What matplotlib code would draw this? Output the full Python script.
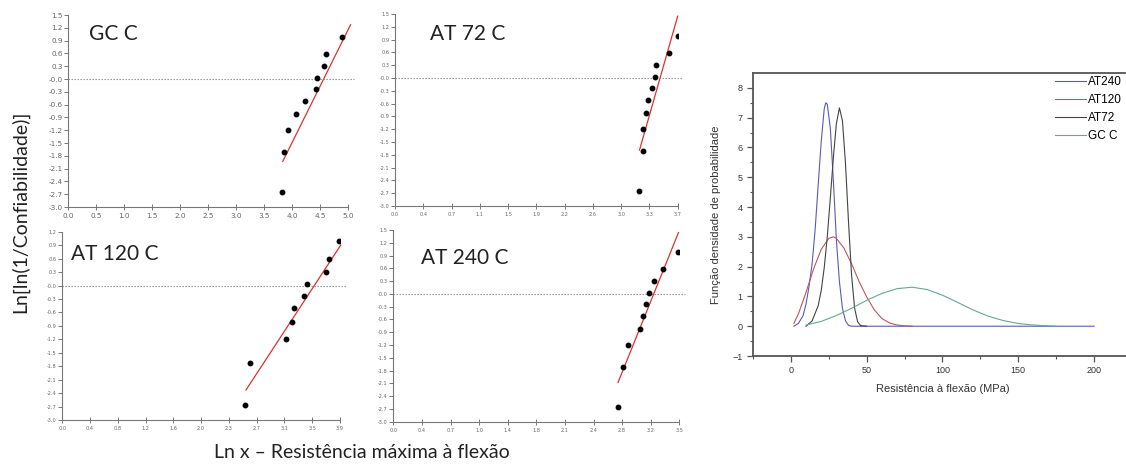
import numpy as np
import matplotlib
matplotlib.use("Agg")
import matplotlib.pyplot as plt

# Weibull plots: ln x of each specimen, same median-rank ordinate for all groups
ln_ln_y = [-2.66, -1.72, -1.20, -0.82, -0.51, -0.23, 0.03, 0.30, 0.59, 0.99]
gcc_lnx = [3.81, 3.86, 3.93, 4.06, 4.23, 4.42, 4.44, 4.57, 4.60, 4.89]
at72_lnx = [3.19, 3.24, 3.25, 3.29, 3.31, 3.36, 3.40, 3.42, 3.59, 3.70]
at120_lnx = [2.56, 2.64, 3.14, 3.22, 3.25, 3.39, 3.43, 3.71, 3.75, 3.89]
at240_lnx = [2.75, 2.81, 2.87, 3.02, 3.05, 3.09, 3.13, 3.19, 3.30, 3.48]

# fitted lines (end points)
gcc_fit_x, gcc_fit_y = [3.83, 5.04], [-1.93, 1.27]
at72_fit_x, at72_fit_y = [3.20, 3.70], [-1.69, 1.45]
at120_fit_x, at120_fit_y = [2.58, 3.91], [-2.33, 0.90]
at240_fit_x, at240_fit_y = [2.75, 3.49], [-2.08, 1.44]

# x tick labels as printed on each plot
gcc_xticklabels = ["0.0", "0.5", "1.0", "1.5", "2.0", "2.5", "3.0", "3.5", "4.0", "4.5", "5.0"]
at72_xticklabels = ["0.0", "0.4", "0.7", "1.1", "1.5", "1.9", "2.2", "2.6", "3.0", "3.3", "3.7"]
at120_xticklabels = ["0.0", "0.4", "0.8", "1.2", "1.6", "2.0", "2.3", "2.7", "3.1", "3.5", "3.9"]
at240_xticklabels = ["0.0", "0.4", "0.7", "1.0", "1.4", "1.8", "2.1", "2.4", "2.8", "3.2", "3.5"]

# probability density curves (MPa, density)
at240_mpa = [2, 5, 8, 10, 12, 14, 16, 18, 20, 22, 23, 24, 26, 28, 30, 32, 34, 36, 38, 40, 200]
at240_pdf = [0.0, 0.1, 0.35, 0.75, 1.35, 2.1, 3.25, 4.75, 6.2, 7.3, 7.5, 7.45, 6.65, 4.9, 2.9, 1.5,
             0.6, 0.18, 0.03, 0.0, 0.0]
at72_mpa = [10, 14, 18, 20, 22, 24, 26, 28, 30, 32, 34, 36, 38, 40, 42, 44, 46, 50]
at72_pdf = [0.0, 0.18, 0.69, 1.2, 1.97, 3.0, 4.3, 5.65, 6.8, 7.33, 6.9, 5.47, 3.5, 1.73, 0.61,
            0.15, 0.02, 0.0]
at120_mpa = [2, 5, 10, 15, 20, 25, 28, 30, 35, 40, 45, 50, 55, 60, 65, 70, 75, 80]
at120_pdf = [0.1, 0.42, 1.14, 1.93, 2.58, 2.95, 3.0, 2.95, 2.62, 2.1, 1.5, 0.98, 0.55, 0.26,
             0.11, 0.04, 0.015, 0.0]
gcc_mpa = [10, 20, 30, 40, 50, 60, 70, 80, 90, 100, 110, 120, 130, 140, 150, 160, 170, 175]
gcc_pdf = [0.04, 0.16, 0.36, 0.6, 0.87, 1.1, 1.26, 1.31, 1.23, 1.04, 0.8, 0.55, 0.34, 0.19,
           0.09, 0.04, 0.01, 0.0]

W, H = 1126, 468
fig = plt.figure(figsize=(W / 100, H / 100), dpi=100)


def px_axes(left, top, right, bottom):
    return fig.add_axes([left / W, 1 - bottom / H, (right - left) / W, (bottom - top) / H])


def weibull_panel(box, lnx, fit_x, fit_y, xmax, xlabels, ymax, title, title_xy, tick_fs):
    ax = px_axes(*box)
    ax.plot(lnx, ln_ln_y, "o", color="black", ms=3.2, zorder=3)
    ax.plot(fit_x, fit_y, color="#e03030", lw=0.9, clip_on=False)
    ax.plot([0, xmax * 1.02], [0, 0], ls=(0, (1.2, 1.5)), color="#888888", lw=0.8, clip_on=False)
    ax.set_xlim(0, xmax)
    ax.set_ylim(-3.0, ymax)
    ax.set_xticks(np.linspace(0, xmax, 11))
    ax.set_xticklabels(xlabels)
    yt = np.round(np.arange(-3.0, ymax + 0.01, 0.3), 1)
    ax.set_yticks(yt)
    ax.set_yticklabels(["%.1f" % v for v in yt])
    for s in ["top", "right"]:
        ax.spines[s].set_visible(False)
    for s in ["left", "bottom"]:
        ax.spines[s].set_color("#777777")
        ax.spines[s].set_linewidth(0.8)
    ax.tick_params(axis="x", direction="inout", length=5, width=0.7, colors="#777777",
                   labelsize=tick_fs, labelcolor="#666666", pad=2)
    ax.tick_params(axis="y", direction="out", length=3, width=0.7, colors="#777777",
                   labelsize=tick_fs, labelcolor="#666666", pad=1)
    ax.patch.set_alpha(0)
    fig.text(title_xy[0] / W, 1 - title_xy[1] / H, title, family="Lato", fontsize=15,
             color="#222222", va="center")
    return ax


weibull_panel((68.3, 15, 348.3, 207), gcc_lnx, gcc_fit_x, gcc_fit_y, 5.0, gcc_xticklabels,
              1.5, "GC C", (89, 34), 5.2)
weibull_panel((395, 14, 677.7, 206), at72_lnx, at72_fit_x, at72_fit_y, 3.7, at72_xticklabels,
              1.5, "AT 72 C", (430, 34), 3.6)
weibull_panel((62.3, 231.7, 340, 420), at120_lnx, at120_fit_x, at120_fit_y, 3.9,
              at120_xticklabels, 1.2, "AT 120 C", (71, 254), 3.6)
weibull_panel((393.3, 230, 679.3, 421.7), at240_lnx, at240_fit_x, at240_fit_y, 3.5,
              at240_xticklabels, 1.5, "AT 240 C", (421, 258), 3.6)

fig.text(20 / W, 1 - 212 / H, "Ln[ln(1/Confiabilidade)]", family="Lato", fontsize=14,
         color="#222222", rotation=90, ha="center", va="center")
fig.text(362 / W, 1 - 453 / H, "Ln x \u2013 Resist\u00eancia m\u00e1xima \u00e0 flex\u00e3o",
         family="Lato", fontsize=14, color="#222222", ha="center", va="center")

# density plot (right)
ax = px_axes(753, 73, 1132, 356)
ax.plot(at240_mpa, at240_pdf, color="#5a5ab8", lw=0.8, label="AT240")
ax.plot(at120_mpa, at120_pdf, color="#b85a5a", lw=0.8, label="AT120")
ax.plot(at72_mpa, at72_pdf, color="#444444", lw=0.8, label="AT72")
ax.plot(gcc_mpa, gcc_pdf, color="#6aa596", lw=0.8, label="GC C")
ax.set_xlim(-25, 225)
ax.set_ylim(-1, 8.5)
ax.set_xticks([0, 50, 100, 150, 200])
ax.set_xticks([-25, 25, 75, 125, 175, 225], minor=True)
ax.set_yticks(range(-1, 9))
ax.set_yticks(np.arange(-0.5, 8.5, 1.0), minor=True)
for s in ax.spines.values():
    s.set_color("#555555")
    s.set_linewidth(1.3)
ax.tick_params(which="major", direction="out", length=4, width=0.9, colors="#555555",
               labelsize=6.5, labelcolor="#333333", top=False, right=False)
ax.tick_params(which="minor", direction="out", length=2.5, width=0.8, colors="#555555",
               top=False, right=False)
for lab in ax.get_xticklabels() + ax.get_yticklabels():
    lab.set_family("Liberation Sans")
ax.set_xlabel("Resist\u00eancia \u00e0 flex\u00e3o (MPa)", family="Liberation Sans", fontsize=8,
              color="#333333", labelpad=6)
ax.set_ylabel("Fun\u00e7\u00e3o densidade de probabilidade", family="Liberation Sans",
              fontsize=8, color="#333333", labelpad=8)
ax.legend(loc="upper left", bbox_to_anchor=(1055 / W, 1 - 76 / H), bbox_transform=fig.transFigure,
          frameon=False, prop={"family": "Liberation Sans", "size": 8.5}, handlelength=2.6,
          handletextpad=0.2, labelspacing=0.5, borderaxespad=0, borderpad=0)

fig.savefig("out.png", dpi=100)
